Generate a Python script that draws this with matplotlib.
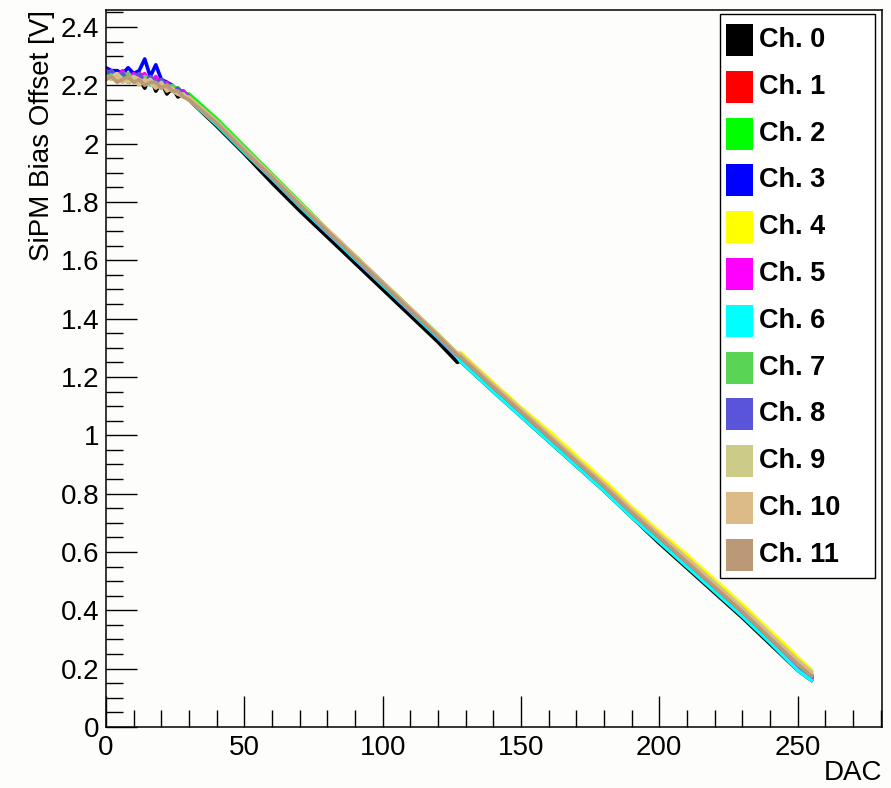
import matplotlib
matplotlib.use('Agg')
from matplotlib import pyplot as plt
from matplotlib.patches import Rectangle
from matplotlib.ticker import MultipleLocator, FuncFormatter

plt.rcParams['font.family'] = ['Liberation Sans', 'DejaVu Sans']

# DAC settings
dac = [0, 2, 4, 6, 8, 10, 12, 14, 16, 18, 20, 22, 24, 26, 28, 30,
       40, 50, 60, 70, 80, 90, 100, 110, 120, 127,
       128, 140, 150, 160, 170, 180, 190, 200, 210, 220, 230, 240, 250, 255]

# bias offset [V] per channel
ch0 = [2.23, 2.24, 2.22, 2.23, 2.21, 2.22, 2.22, 2.19, 2.23, 2.18, 2.21, 2.17, 2.19, 2.16, 2.17, 2.15,
       2.06, 1.965, 1.865, 1.77, 1.68, 1.59, 1.50, 1.41, 1.32, 1.25,
       1.255, 1.15, 1.065, 0.98, 0.895, 0.81, 0.72, 0.63, 0.545, 0.46, 0.375, 0.285, 0.195, 0.16]
ch1 = [2.25, 2.24, 2.25, 2.23, 2.24, 2.22, 2.24, 2.23, 2.21, 2.22, 2.19, 2.21, 2.18, 2.19, 2.17, 2.16,
       2.07, 1.975, 1.885, 1.79, 1.70, 1.61, 1.52, 1.43, 1.34, 1.275,
       1.27, 1.165, 1.08, 0.995, 0.91, 0.825, 0.735, 0.65, 0.565, 0.48, 0.395, 0.305, 0.215, 0.175]
ch2 = [2.24, 2.23, 2.24, 2.22, 2.23, 2.24, 2.21, 2.23, 2.22, 2.21, 2.22, 2.20, 2.19, 2.19, 2.17, 2.17,
       2.085, 1.99, 1.895, 1.80, 1.705, 1.615, 1.525, 1.435, 1.345, 1.28,
       1.275, 1.17, 1.085, 1.0, 0.915, 0.83, 0.74, 0.655, 0.57, 0.485, 0.40, 0.31, 0.22, 0.18]
ch3 = [2.26, 2.25, 2.25, 2.24, 2.26, 2.24, 2.25, 2.29, 2.23, 2.27, 2.22, 2.21, 2.20, 2.18, 2.18, 2.16,
       2.07, 1.975, 1.88, 1.785, 1.695, 1.605, 1.515, 1.425, 1.335, 1.27,
       1.265, 1.16, 1.075, 0.99, 0.905, 0.82, 0.73, 0.645, 0.56, 0.475, 0.39, 0.30, 0.21, 0.17]
ch4 = [2.23, 2.22, 2.24, 2.23, 2.22, 2.21, 2.23, 2.21, 2.20, 2.22, 2.19, 2.20, 2.18, 2.18, 2.16, 2.16,
       2.07, 1.98, 1.885, 1.795, 1.705, 1.615, 1.525, 1.435, 1.345, 1.28,
       1.285, 1.18, 1.095, 1.015, 0.93, 0.845, 0.755, 0.67, 0.59, 0.505, 0.42, 0.33, 0.24, 0.195]
ch5 = [2.25, 2.24, 2.23, 2.25, 2.22, 2.24, 2.23, 2.24, 2.21, 2.23, 2.20, 2.21, 2.19, 2.18, 2.18, 2.16,
       2.075, 1.98, 1.885, 1.79, 1.70, 1.61, 1.52, 1.43, 1.34, 1.275,
       1.265, 1.16, 1.075, 0.99, 0.905, 0.82, 0.73, 0.645, 0.56, 0.475, 0.39, 0.30, 0.205, 0.165]
ch6 = [2.24, 2.23, 2.22, 2.24, 2.23, 2.21, 2.22, 2.22, 2.20, 2.21, 2.21, 2.19, 2.19, 2.17, 2.17, 2.15,
       2.065, 1.97, 1.88, 1.785, 1.695, 1.605, 1.515, 1.425, 1.335, 1.27,
       1.255, 1.15, 1.065, 0.98, 0.895, 0.81, 0.72, 0.635, 0.55, 0.465, 0.38, 0.29, 0.195, 0.16]
ch7 = [2.23, 2.24, 2.22, 2.23, 2.24, 2.22, 2.21, 2.23, 2.22, 2.20, 2.21, 2.19, 2.20, 2.18, 2.17, 2.16,
       2.08, 1.99, 1.89, 1.795, 1.705, 1.615, 1.525, 1.435, 1.345, 1.28,
       1.27, 1.165, 1.08, 0.995, 0.91, 0.825, 0.735, 0.65, 0.565, 0.48, 0.395, 0.305, 0.215, 0.175]
ch8 = [2.24, 2.25, 2.23, 2.24, 2.22, 2.23, 2.24, 2.21, 2.23, 2.21, 2.22, 2.20, 2.18, 2.19, 2.17, 2.16,
       2.07, 1.975, 1.885, 1.79, 1.70, 1.61, 1.52, 1.43, 1.34, 1.275,
       1.27, 1.165, 1.08, 0.995, 0.91, 0.825, 0.735, 0.65, 0.565, 0.48, 0.395, 0.305, 0.215, 0.175]
ch9 = [2.22, 2.23, 2.24, 2.22, 2.21, 2.23, 2.22, 2.21, 2.22, 2.20, 2.19, 2.20, 2.18, 2.17, 2.17, 2.15,
       2.075, 1.98, 1.89, 1.795, 1.705, 1.615, 1.525, 1.435, 1.345, 1.28,
       1.28, 1.175, 1.09, 1.005, 0.92, 0.835, 0.745, 0.66, 0.58, 0.495, 0.41, 0.32, 0.23, 0.19]
ch10 = [2.23, 2.22, 2.23, 2.21, 2.23, 2.22, 2.20, 2.22, 2.21, 2.19, 2.21, 2.18, 2.19, 2.17, 2.16, 2.16,
        2.075, 1.98, 1.89, 1.795, 1.705, 1.615, 1.525, 1.435, 1.345, 1.28,
        1.275, 1.17, 1.085, 1.0, 0.915, 0.835, 0.745, 0.66, 0.575, 0.49, 0.405, 0.315, 0.225, 0.185]
ch11 = [2.22, 2.23, 2.21, 2.22, 2.23, 2.21, 2.22, 2.20, 2.21, 2.21, 2.19, 2.20, 2.18, 2.18, 2.16, 2.15,
        2.07, 1.975, 1.885, 1.79, 1.70, 1.61, 1.52, 1.43, 1.34, 1.275,
        1.27, 1.165, 1.08, 0.995, 0.91, 0.825, 0.735, 0.65, 0.565, 0.48, 0.395, 0.305, 0.215, 0.175]

channels = [ch0, ch1, ch2, ch3, ch4, ch5, ch6, ch7, ch8, ch9, ch10, ch11]
labels = ['Ch. %d' % i for i in range(12)]
colors = ['#000000', '#ff0000', '#00ff00', '#0000ff', '#ffff00', '#ff00ff',
          '#00ffff', '#59d454', '#5954d9', '#cccc88', '#ddbb88', '#bb9977']

bg = '#fdfdfb'
fig = plt.figure(figsize=(8.91, 7.88), dpi=100, facecolor=bg)
ax = fig.add_axes([106 / 891, 61 / 788, 776 / 891, 717 / 788], facecolor=bg)

for v, c in zip(channels, colors):
    ax.plot(dac, v, color=c, lw=2.6, solid_joinstyle='round')

ax.set_xlim(0, 280.5)
ax.set_ylim(0, 2.458)

# ROOT-ish axes: ticks inside, only left and bottom
ax.xaxis.set_major_locator(MultipleLocator(50))
ax.xaxis.set_minor_locator(MultipleLocator(10))
ax.yaxis.set_major_locator(MultipleLocator(0.2))
ax.yaxis.set_minor_locator(MultipleLocator(0.05))
ax.yaxis.set_major_formatter(FuncFormatter(lambda y, p: '%g' % round(y, 2)))
ax.tick_params(which='both', direction='in', top=False, right=False, width=1, labelsize=20)
ax.tick_params(which='major', length=22)
ax.tick_params(which='minor', length=12)
ax.tick_params(axis='x', pad=6)
ax.tick_params(axis='y', pad=5)
for s in ax.spines.values():
    s.set_linewidth(1.1)

ax.set_xlabel('DAC', fontsize=20, loc='right', labelpad=-1)
ax.set_ylabel('SiPM Bias Offset [V]', fontsize=20, loc='top', labelpad=4)

# legend box drawn by hand, ROOT TLegend style
def px(x, y):
    return x / 891, 1 - y / 788

x0, y0 = px(720, 578)
x1, y1 = px(875, 14)
fig.patches.append(Rectangle((x0, y0), x1 - x0, y1 - y0, transform=fig.transFigure,
                             facecolor='white', edgecolor='black', lw=1))
for i, (lab, c) in enumerate(zip(labels, colors)):
    yc = 40 + i * 46.8
    sx, sy = px(726, yc + 16)
    fig.patches.append(Rectangle((sx, sy), 27 / 891, 32 / 788, transform=fig.transFigure,
                                 facecolor=c, edgecolor='none'))
    tx, ty = px(759, yc)
    fig.text(tx, ty, lab, fontsize=19.5, fontweight='bold', va='center', ha='left')

fig.savefig('out.png', dpi=100, facecolor=bg)
